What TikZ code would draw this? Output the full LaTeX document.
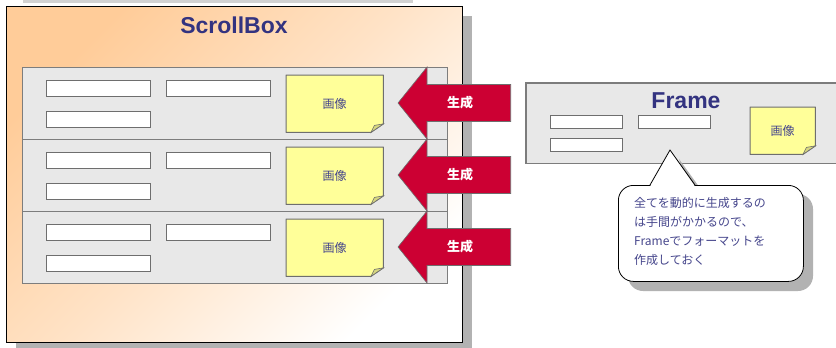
\documentclass[tikz,border=0pt]{standalone}
\usepackage{fontspec}
\setmainfont{Liberation Sans}
\newfontfamily\jp{Noto Sans CJK JP}
\usetikzlibrary{calc}
\definecolor{ttl}{RGB}{51,51,128}
\definecolor{txtblue}{RGB}{70,70,140}
\definecolor{panelgray}{RGB}{232,232,232}
\definecolor{edgegray}{RGB}{110,110,110}
\definecolor{shadowgray}{RGB}{178,178,178}
\definecolor{noteyellow}{RGB}{255,255,153}
\definecolor{foldtan}{RGB}{214,214,128}
\definecolor{arrowred}{RGB}{204,0,51}
\definecolor{peach}{RGB}{255,204,153}
\tikzset{
  panel/.style={draw=edgegray!90, line width=1pt, fill=panelgray, inner sep=0pt, anchor=north west},
  field/.style={draw=edgegray, line width=1pt, fill=white, inner sep=0pt, anchor=north west, minimum width=104pt, minimum height=16pt},
  smallfield/.style={field, minimum width=72pt, minimum height=12.5pt},
  notebody/.style={inner sep=0pt, anchor=north west},
  notetext/.style={font=\jp\fontsize{12}{12}\selectfont, text=txtblue},
  title/.style={font=\bfseries\fontsize{23}{23}\selectfont, text=ttl},
  redarrow/.style={fill=arrowred, draw=edgegray, line width=0.6pt, line join=miter},
  arrowlabel/.style={font=\jp\bfseries\fontsize{13}{13}\selectfont, text=white},
}
\newcommand\mknote[5]{%
  \node[notebody, minimum width=#4pt, minimum height=#5pt] (#1) at (#2,#3) {};
  \fill[noteyellow] (#1.north west) -- (#1.north east) -- ([yshift=8.5pt]#1.south east)
     -- ([xshift=-12.5pt]#1.south east) -- (#1.south west) -- cycle;
  \draw[edgegray, line width=1pt, line join=round] (#1.north west) -- (#1.north east) -- ([yshift=8.5pt]#1.south east)
     -- ([xshift=-12.5pt]#1.south east) -- (#1.south west) -- cycle;
  \filldraw[fill=foldtan, draw=edgegray, line width=0.6pt] ([xshift=-12.5pt]#1.south east)
     -- ([xshift=-9pt,yshift=7pt]#1.south east) -- ([yshift=8.5pt]#1.south east) -- cycle;
  \node[notetext] (#1t) at (#1.center) {画像};
}
\begin{document}
\begin{tikzpicture}[x=1pt,y=-1pt]
\useasboundingbox (0,0) rectangle (836,348);
% thin line at very top
\fill[gray!35] (23,0) rectangle (413,2.5);
% ScrollBox
\fill[shadowgray] (16,16) rectangle (472,352);
\node[draw=black, line width=0.9pt, top color=peach, bottom color=white, middle color=peach!55, shading angle=45,
      inner sep=0pt, anchor=north west, minimum width=456pt, minimum height=336pt] (sb) at (6,6) {};
\node[title] (sbt) at (234,25) {ScrollBox};
% rows
\foreach \r/\t in {1/67,2/139,3/211}{
  \node[panel, minimum width=425pt, minimum height=72pt] (row\r) at (22,\t) {};
}
\foreach \r/\t in {1/67,2/139,3/211}{
  \node[field] (fa\r) at (46,\t+13) {};
  \node[field] (fb\r) at (166,\t+13) {};
  \node[field] (fc\r) at (46,\t+44) {};
  \mknote{note\r}{286}{\t+8}{97}{57}
}
% red arrows
\foreach \r/\t in {1/67,2/139,3/211}{
  \draw[redarrow] (398,\t+36) -- (427,\t) -- (427,\t+17.5) -- (510.7,\t+17.5)
     -- (510.7,\t+54.5) -- (427,\t+54.5) -- (427,\t+72) -- cycle;
  \node[arrowlabel] (gen\r) at (460,\t+36) {生成};
}
% Frame (runs off the right edge)
\node[fill=panelgray, inner sep=0pt, anchor=north west, minimum width=330pt, minimum height=80pt] (frame) at (526,83) {};
\draw[edgegray!90, line width=1.2pt] ([xshift=30pt]frame.north east) -- (frame.north west) -- (frame.south west) -- ([xshift=30pt]frame.south east);
\node[title] (frt) at (686,101) {Frame};
\node[smallfield] (ffa) at (550,115) {};
\node[smallfield] (ffb) at (638,115) {};
\node[smallfield] (ffc) at (550,138) {};
\mknote{fnote}{750}{107}{65}{47}
% callout shadow
\fill[shadowgray, rounded corners=15pt] (628,194) rectangle (813,291);
\fill[shadowgray] (679,159) -- (705,195) -- (690,195) -- cycle;
% callout
\node[draw=black, line width=0.8pt, fill=white, rounded corners=15pt, inner sep=0pt, anchor=north west,
      minimum width=185pt, minimum height=96pt] (call) at (618,185) {};
\coordinate (tip) at (670,150);
\fill[white] (650,186.5) -- (tip) -- (695,186.5) -- cycle;
\draw[black, line width=0.8pt, line join=miter] (650,185) -- (tip) -- (695,185);
\node[font=\jp\fontsize{12}{19}\selectfont, text=txtblue, align=left, anchor=north west, inner sep=0pt] (ctext) at (634,197)
  {全てを動的に生成するの\\は手間がかかるので、\\Frameでフォーマットを\\作成しておく};
\end{tikzpicture}
\end{document}
